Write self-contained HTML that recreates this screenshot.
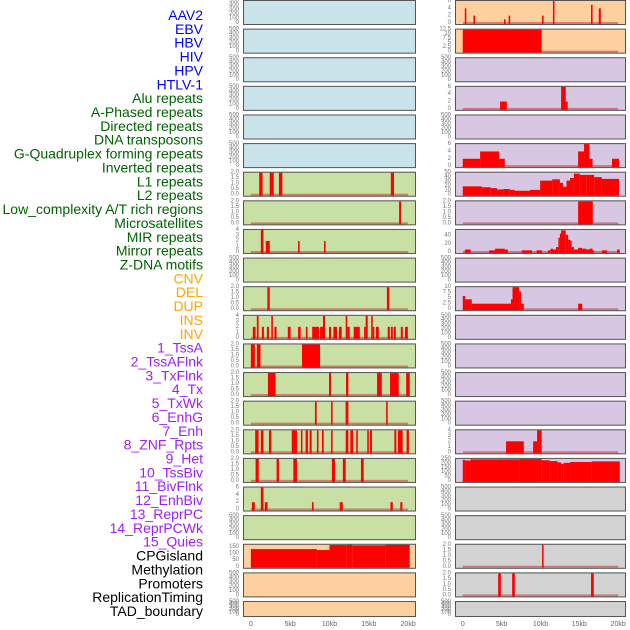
<!DOCTYPE html>
<html><head><meta charset="utf-8"><style>
html,body{margin:0;padding:0;background:#fff;width:630px;height:630px;overflow:hidden}
svg{display:block;font-family:"Liberation Sans",sans-serif}
</style></head><body>
<svg id="chart" width="630" height="630" viewBox="0 0 630 630" xmlns="http://www.w3.org/2000/svg"></svg>
<script>
const featureLabels = ["AAV2","EBV","HBV","HIV","HPV","HTLV-1","Alu repeats","A-Phased repeats","Directed repeats","DNA transposons","G-Quadruplex forming repeats","Inverted repeats","L1 repeats","L2 repeats","Low_complexity A/T rich regions","Microsatellites","MIR repeats","Mirror repeats","Z-DNA motifs","CNV","DEL","DUP","INS","INV","1_TssA","2_TssAFlnk","3_TxFlnk","4_Tx","5_TxWk","6_EnhG","7_Enh","8_ZNF_Rpts","9_Het","10_TssBiv","11_BivFlnk","12_EnhBiv","13_ReprPC","14_ReprPCWk","15_Quies","CPGisland","Methylation","Promoters","ReplicationTiming","TAD_boundary"];
const labelGroups = ["v","v","v","v","v","v","r","r","r","r","r","r","r","r","r","r","r","r","r","s","s","s","s","s","c","c","c","c","c","c","c","c","c","c","c","c","c","c","c","o","o","o","o","o"];
const panelGroups = ["v","v","v","v","v","v","r","r","r","r","r","r","r","r","r","r","r","r","r","s","s","s","s","s","c","c","c","c","c","c","c","c","c","c","c","c","c","c","c","o","o","o","o","o"];
const xTickValues = [0,5,10,15,20];
const xTickLabels = ["0","5kb","10kb","15kb","20kb"];
const T500=[0,100,200,300,400,500], T2=[0,0.5,1,1.5,2], T4=[0,1,2,3,4], T6=[0,2,4,6];
const panelTicks = [T500,T500,T500,T500,T500,T500,T2,T2,T4,T500,T2,T4,T2,T2,T2,T2,T2,T6,T500,[0,50,100,150],T500,T500,
 T6,[0,2.5,5,7.5,10,12.5],T500,T6,T500,T6,[0,10,20,30,40,50],T2,[0,20,40],T500,[0,2.5,5,7.5,10],T500,T500,T500,T500,T4,[0,50,100,150,200,250],T500,T500,T2,T2,T500];
const panelMax = [500,500,500,500,500,500,2,2,4,500,2,4,2,2,2,2,2,6,500,167,500,500,
 6,12.5,500,6,500,6,50,2,54,500,10,500,500,500,500,4,250,500,500,2,2,500];
// segments: [startKb, endKb, value]
const panelSegments = [
 [],[],[],[],[],[],
 [[1.06,1.49,2],[2.4,2.9,2],[3.57,4.0,2],[17.8,18.2,2]],
 [[18.85,19.1,2]],
 [[1.27,1.6,4],[1.9,2.4,2],[6.0,6.2,2],[9.3,9.5,2]],
 [],
 [[2.1,2.4,2],[17.3,17.6,2]],
 [[0.25,0.6,2],[0.76,0.98,4],[1.4,1.66,2],[2.04,2.3,2],[2.6,2.8,4],[3.0,3.27,2],[4.7,5.05,2],[6.0,6.33,2],[7.0,7.2,2],[7.8,8.66,2],[8.8,9.17,2],[9.17,9.43,4],[9.94,10.2,2],[10.5,10.95,2],[11.2,11.55,2],[12.06,12.25,4],[12.25,12.57,2],[13.08,13.85,2],[14.4,14.6,2],[14.6,14.86,4],[15.3,15.5,4],[15.5,15.7,2],[15.9,16.27,2],[17.4,17.67,2],[17.8,18.05,2],[18.17,18.43,2],[19.07,19.32,2],[19.6,19.96,2]],
 [[0,0.51,2],[0.76,1.23,2],[6.5,8.8,2]],
 [[2.17,3.14,2],[9.94,10.2,2],[12.1,12.4,2],[16.05,16.65,2],[17.7,18.8,2],[19.75,20.2,2]],
 [[8.15,8.37,2],[10.2,10.4,2],[12.05,12.4,2],[17.2,17.4,2]],
 [[0.55,0.98,2],[1.27,1.6,2],[2.3,2.6,2],[5.2,5.86,2],[6.37,6.5,2],[6.96,7.26,2],[7.47,7.73,2],[8.4,8.6,2],[9.04,9.26,2],[10.2,10.4,2],[12.06,12.4,2],[12.65,13.0,2],[13.4,13.6,2],[14.8,15.0,2],[15.15,15.4,2],[18.25,18.5,2],[18.7,19.3,2],[19.8,20.1,2]],
 [[0.6,1.0,2],[3.27,3.57,2],[5.4,5.86,2],[10.3,10.7,2],[11.7,12.06,2],[14.0,14.35,2]],
 [[0.13,0.5,2],[1.27,1.6,6],[1.78,2.12,2],[7.77,7.98,2],[11.3,11.68,2],[17.75,18.05,2],[19.0,19.27,2]],
 [],
 [[0,8.4,134],[8.4,10,127],[10,12.2,165],[12.2,12.9,167],[12.9,17.1,163],[17.1,20.2,167]],
 [],[],
 [[0.26,0.46,4],[1.37,1.58,2],[5.3,5.5,1],[5.9,6.1,2],[10.2,10.4,2],[11.6,11.8,6],[16.5,16.7,5],[17.5,17.76,4]],
 [[0,10.15,12.5]],
 [],
 [[4.8,5.66,2],[12.65,13.25,6],[13.25,13.5,2]],
 [],
 [[0,2.23,2],[2.23,4.67,4],[4.67,5.4,2],[14.84,15.6,4],[15.6,16.3,6],[16.3,16.7,2],[19.2,20.1,2]],
 [[0,2.45,19],[2.45,3.6,17],[3.6,4.4,15],[4.4,5.2,12],[5.2,6.05,13],[6.05,6.7,11],[6.7,8.66,9],[8.66,9.95,11],[9.95,11.5,32],[11.5,12.5,35],[12.5,12.9,27],[12.9,13.35,18],[13.35,13.8,32],[13.8,14.3,38],[14.3,15.05,48],[15.05,15.95,45],[15.95,16.9,45],[16.9,17.9,40],[17.9,20.1,36]],
 [[14.84,16.73,2]],
 [[0.27,1.0,6],[3.4,4.15,4],[4.15,5.4,8],[5.4,5.8,6],[7.6,8.9,4],[9.5,10.2,4],[10.96,11.3,4],[11.3,11.6,8],[11.6,12.0,6],[12.0,12.3,12],[12.3,12.5,35],[12.5,12.65,45],[12.65,13.25,53],[13.25,13.55,42],[13.55,13.8,30],[13.8,14.0,28],[14.0,14.3,12],[14.3,14.84,6],[14.84,15.36,10],[15.36,15.9,8],[15.9,16.3,6],[16.3,16.7,8],[16.7,16.9,4],[17.9,18.55,4],[19.85,20.2,6]],
 [],
 [[0,0.3,6],[0.3,1.16,4.5],[1.16,6.2,2.5],[6.2,6.4,4.5],[6.4,7.24,10],[7.24,7.5,8],[7.5,7.85,2.5],[14.84,15.36,2.5]],
 [],[],[],[],
 [[5.57,7.85,2],[9.05,9.56,2],[9.56,10.15,4]],
 [[0,0.3,240],[0.3,1.0,232],[1.0,7.25,245],[7.25,10.15,248],[10.15,11.2,235],[11.2,12.2,225],[12.2,12.65,210],[12.65,13.0,195],[13.0,13.8,205],[13.8,16.6,215],[16.6,20.2,222]],
 [],[],
 [[10.2,10.4,2]],
 [[4.55,4.9,2],[6.35,6.7,2],[16.5,16.85,2]],
 []
];
const bgColors={v:"#c9e3eb",r:"#c8e0a4",s:"#ffd09f",c:"#d7c7e3",o:"#d2d2d2"};
const labelColors={v:"#0000ff",r:"#006400",s:"#ffa500",c:"#a020f0",o:"#000000"};
const NS="http://www.w3.org/2000/svg";
const svg=document.getElementById("chart");
function mk(tag,attrs,parent){const e=document.createElementNS(NS,tag);for(const k in attrs)e.setAttribute(k,attrs[k]);(parent||svg).appendChild(e);return e;}
function fmt(tv,ticks){ if(ticks===T2) return tv.toFixed(1); return String(tv); }

featureLabels.forEach((t,i)=>{
  const el=mk("text",{x:203,y:15+i*13.86,"text-anchor":"end","dominant-baseline":"central","font-size":"14",fill:labelColors[labelGroups[i]]});
  el.textContent=t;
  
  
});

const cols=[{x0:243,w:173},{x0:455,w:171}];
const D0=-1,D1=21;
featureLabels.forEach((name,i)=>{
  const col=cols[i<22?0:1], row=i%22;
  const top=row*28.62, h=row===21?16:25, bottom=top+h;
  const xs=kb=>col.x0+(kb-D0)/(D1-D0)*col.w;
  const ymax=panelMax[i];
  const ys=v=>(bottom-2)-(v/ymax)*(h-3);
  const g=mk("g",{});
  
  
  const bg=mk("rect",{x:col.x0,y:top,width:col.w,height:h,fill:bgColors[panelGroups[i]]},g);
  
  
  const segs=panelSegments[i];
  if(segs.length){
    const bl=mk("line",{x1:xs(0),x2:xs(20),y1:bottom-2,y2:bottom-2,stroke:"rgba(190,20,20,0.45)","stroke-width":"2"},g);
    
    
  }
  segs.forEach(s=>{
    const x1=xs(s[0]),x2=xs(s[1]);
    const r=mk("rect",{x:x1,y:ys(s[2]),width:Math.max(1.5,x2-x1),height:(bottom-2)-ys(s[2])+1,fill:"#ff0000"},g);
    
    
  });
  mk("rect",{x:col.x0+0.5,y:top+0.5,width:col.w-1,height:h-1,fill:"none",stroke:"#555","stroke-width":"1"},g);
  const ticks=panelTicks[i];
  ticks.forEach(tv=>{
    const tt=mk("text",{x:col.x0-4,y:ys(Math.min(tv,ymax)),"text-anchor":"end","dominant-baseline":"central","font-size":"6",fill:"#777"},g);
    tt.textContent=fmt(tv,ticks);
    
    
  });
});
cols.forEach((col,ci)=>{
  const xs=kb=>col.x0+(kb-D0)/(D1-D0)*col.w;
  xTickValues.forEach((v,k)=>{
    const t=mk("text",{x:xs(v),y:626,"text-anchor":"middle","font-size":"7",fill:"#666"});
    t.textContent=xTickLabels[k];
    
    
  });
});
</script>
</body></html>
